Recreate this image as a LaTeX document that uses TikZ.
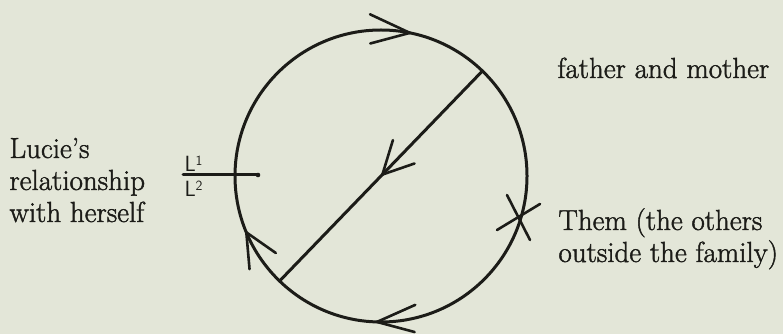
\documentclass[tikz,border=0pt]{standalone}
\usepackage{fontspec}
\setmainfont{Latin Modern Roman}[FakeBold=1.5]
\usetikzlibrary{calc}
\definecolor{bg}{RGB}{227,230,216}
\definecolor{ink}{RGB}{28,28,24}
\begin{document}
\begin{tikzpicture}[x=1pt,y=1pt, line width=3pt, draw=ink, line cap=round,
  lbl/.style={font=\fontsize{29}{32}\selectfont, inner sep=0pt, anchor=base west, text=ink},
  lsym/.style={font=\sffamily\fontsize{22}{22}\selectfont, inner sep=0pt, anchor=base west, text=ink},
  barb/.style={line width=2.6pt}]
\fill[bg] (0,0) rectangle (783,334);
\useasboundingbox (0,0) rectangle (783,334);
\coordinate (C) at (381,158);
\draw (C) circle (146);
% diameter
\coordinate (D1) at ($(C)+(46:146)$);
\coordinate (D2) at ($(C)+(226:146)$);
\draw (D1) -- (D2);
\coordinate (Dt) at ($(C)+(46:2)$);
\draw[barb] (Dt) -- ++(73:36);
\draw[barb] (Dt) -- ++(19:34);
% arrows on circle (clockwise)
\coordinate (Tt) at ($(C)+(78.6:146)$);
\draw[barb] (Tt) -- ++(155:44);
\draw[barb] (Tt) -- ++(195:41);
\coordinate (Bt) at ($(C)+(268.4:146)$);
\draw[barb] (Bt) -- ++(24:42);
\draw[barb] (Bt) -- ++(-15:39);
\coordinate (Lt) at ($(C)+(202.7:146)$);
\draw[barb] (Lt) -- ++(-35:36);
\draw[barb] (Lt) -- ++(-85:37);
% cross on the right
\coordinate (X1) at (540,130);
\coordinate (X2) at (497,104);
\coordinate (X3) at (507,139);
\coordinate (X4) at (530,94);
\draw[barb] (X1) -- (X2);
\draw[barb] (X3) -- (X4);
% left line with dot
\coordinate (La) at (183,159);
\coordinate (Lb) at (258,159);
\draw (La) -- (Lb);
\fill[ink] (Lb) circle (2.3);
\node[lsym] (l1) at (183,162) {L\raisebox{6.7pt}{\fontsize{14}{14}\selectfont 1}};
\node[lsym] (l2) at (183,137) {L\raisebox{6.7pt}{\fontsize{14}{14}\selectfont 2}};
% texts
\node[lbl] (t1) at (8,176) {Lucie's};
\node[lbl] (t2) at (8,144) {relationship};
\node[lbl] (t3) at (8,112) {with herself};
\node[lbl] (fm) at (556,256) {father and mother};
\node[lbl] (th1) at (557,104) {Them (the others};
\node[lbl] (th2) at (557,72) {outside the family)};
\end{tikzpicture}
\end{document}
